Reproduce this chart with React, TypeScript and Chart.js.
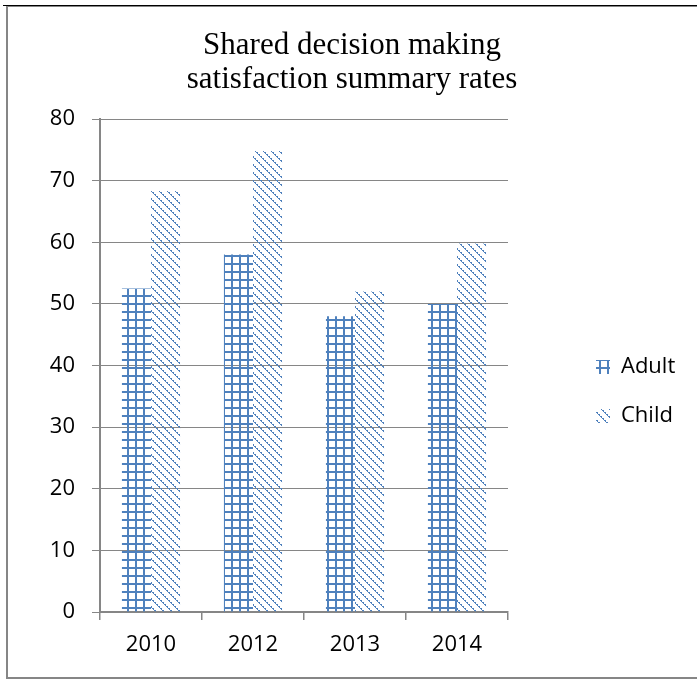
import React, { useEffect, useRef } from "react";
import { Chart, registerables } from "chart.js";

Chart.register(...registerables);

const categories = ["2010", "2012", "2013", "2014"];
const adultValues = [52.5, 58, 48, 50];
const childValues = [68.3, 74.8, 52, 59.8];
const seriesNames = ["Adult", "Child"];
const titleLines = ["Shared decision making", "satisfaction summary rates"];

const BLUE = "#4F81BD";
const GRAY = "#868686";

function makeGridPattern(): CanvasPattern | string {
  const c = document.createElement("canvas");
  c.width = 8;
  c.height = 8;
  const ctx = c.getContext("2d");
  if (!ctx) return BLUE;
  ctx.fillStyle = BLUE;
  ctx.fillRect(7, 0, 1, 8);
  ctx.fillRect(0, 0, 1, 8);
  ctx.fillRect(0, 7, 8, 1);
  ctx.fillRect(0, 0, 8, 1);
  return ctx.createPattern(c, "repeat") || BLUE;
}

function makeDiagPattern(): CanvasPattern | string {
  const c = document.createElement("canvas");
  c.width = 8;
  c.height = 8;
  const ctx = c.getContext("2d");
  if (!ctx) return BLUE;
  ctx.fillStyle = BLUE;
  for (let k = 0; k < 8; k++) {
    ctx.fillRect(k, k, 1, 1);
    if (k % 2 === 0) ctx.fillRect((k + 1) % 8, k, 1, 1);
  }
  return ctx.createPattern(c, "repeat") || BLUE;
}

const legendPlacement = {
  id: "legendPlacement",
  beforeInit(chart: any) {
    const lg = chart.legend;
    if (!lg) return;
    const orig = lg.fit.bind(lg);
    lg.fit = function () {
      orig();
      this.width = 189;
    };
  },
  afterLayout(chart: any) {
    const lg = chart.legend;
    if (!lg) return;
    lg.left = 569;
    lg.right = 697;
    lg.top = 329;
    lg.bottom = 679;
    lg.width = lg.right - lg.left;
    lg.height = lg.bottom - lg.top;
  },
};

export default function App() {
  const ref = useRef<HTMLCanvasElement | null>(null);

  useEffect(() => {
    if (!ref.current) return;
    const chart = new Chart(ref.current, {
      type: "bar",
      data: {
        labels: categories,
        datasets: [
          {
            label: seriesNames[0],
            data: adultValues,
            backgroundColor: makeGridPattern() as any,
            borderWidth: 0,
            categoryPercentage: 0.57,
            barPercentage: 1.0,
          },
          {
            label: seriesNames[1],
            data: childValues,
            backgroundColor: makeDiagPattern() as any,
            borderWidth: 0,
            categoryPercentage: 0.57,
            barPercentage: 1.0,
          },
        ],
      },
      options: {
        responsive: false,
        animation: false,
        devicePixelRatio: 1,
        layout: { padding: { left: 7, right: 0, top: 0, bottom: 20 } },
        plugins: {
          title: {
            display: true,
            text: titleLines,
            color: "#000",
            font: { family: '"Liberation Serif", "Times New Roman", serif', size: 31, weight: "normal", lineHeight: 1.1 },
            padding: { top: 29, bottom: 21.8 },
          },
          legend: {
            display: true,
            position: "right",
            align: "start",
            labels: {
              color: "#000",
              font: { family: '"Open Sans", sans-serif', size: 22 },
              boxWidth: 14,
              boxHeight: 14,
              padding: 27,
            },
          },
          tooltip: { enabled: false },
        },
        scales: {
          x: {
            afterFit: (axis: any) => {
              axis.height = 47;
            },
            grid: {
              display: true,
              drawOnChartArea: false,
              drawTicks: true,
              tickLength: 8,
              offset: true,
              color: GRAY,
              lineWidth: 1.5,
            },
            border: { display: true, color: GRAY, width: 1.5 },
            ticks: {
              color: "#000",
              font: { family: '"Open Sans", sans-serif', size: 22 },
              padding: 12,
            },
          },
          y: {
            min: 0,
            max: 80,
            afterFit: (axis: any) => {
              axis.width = 93;
            },
            grid: {
              color: GRAY,
              lineWidth: 1,
              drawTicks: true,
              tickLength: 8,
            },
            border: { display: true, color: GRAY, width: 2 },
            ticks: {
              stepSize: 10,
              color: "#000",
              font: { family: '"Open Sans", sans-serif', size: 22 },
              padding: 17,
            },
          },
        },
      },
      plugins: [legendPlacement],
    });
    return () => chart.destroy();
  }, []);

  return (
    <div
      style={{
        position: "fixed",
        left: 0,
        top: 0,
        width: 697,
        height: 679,
        background: "#fff",
        overflow: "hidden",
      }}
    >
      <canvas ref={ref} width={697} height={679} style={{ display: "block", width: 697, height: 679 }} />
      <div style={{ position: "absolute", left: 3, top: 5, width: 694, height: 1, background: "#000" }} />
      <div
        style={{
          position: "absolute",
          left: 6,
          top: 6,
          width: 700,
          height: 673,
          boxSizing: "border-box",
          borderLeft: `2px solid ${GRAY}`,
          borderTop: `1px solid ${GRAY}`,
          borderBottom: `2px solid ${GRAY}`,
          pointerEvents: "none",
        }}
      />
    </div>
  );
}
